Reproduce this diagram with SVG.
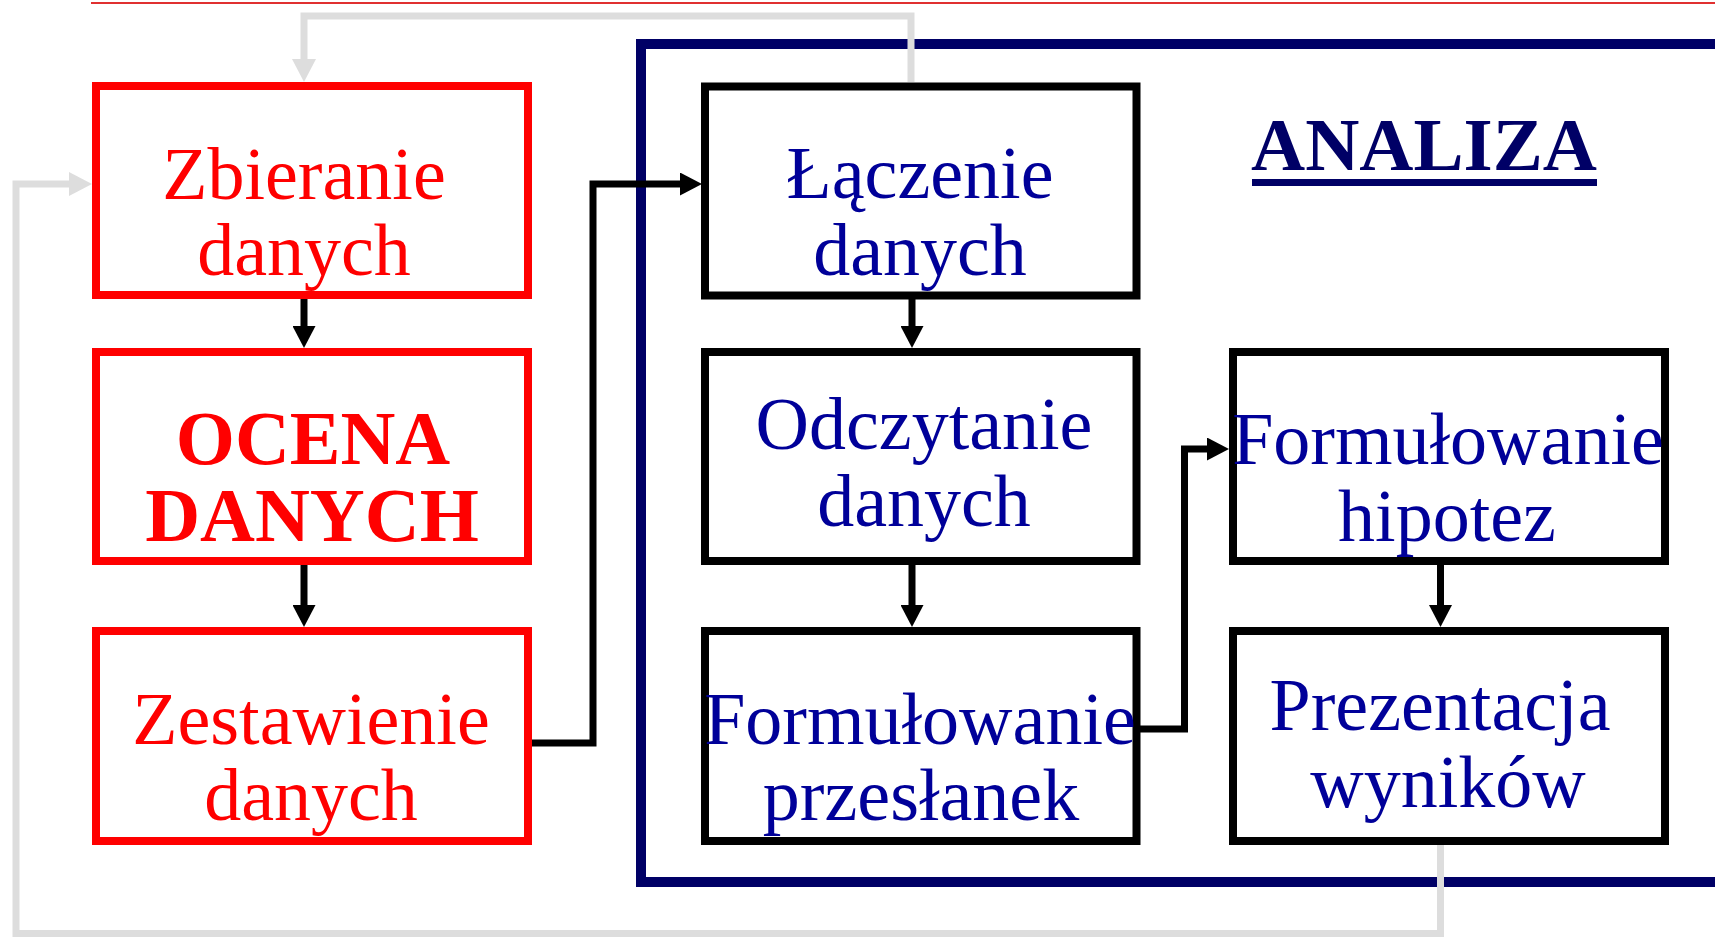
<svg xmlns="http://www.w3.org/2000/svg" width="1715" height="937" viewBox="0 0 1715 937">
<style>
.bg{fill:#ffffff}
.rbox{fill:#ffffff;stroke:#ff0000;stroke-width:8}
.kbox{fill:#ffffff;stroke:#000000;stroke-width:8}
.frame{fill:none;stroke:#000066;stroke-width:10}
.t{font-family:"Liberation Serif","Times New Roman",serif;font-size:74px;text-anchor:middle}
.red{fill:#ff0000}
.blue{fill:#000099}
.bold{font-weight:bold;font-size:76px}
.title{font-family:"Liberation Serif","Times New Roman",serif;font-size:75px;font-weight:bold;fill:#000066;text-anchor:middle}
.blk{fill:none;stroke:#000000;stroke-width:7;stroke-linejoin:miter;marker-end:url(#ab)}
.gry{fill:none;stroke:#dddddd;stroke-width:7;stroke-linejoin:miter}
.gryA{marker-end:url(#ag)}
</style>
<defs>
<marker id="ab" markerUnits="userSpaceOnUse" markerWidth="22" markerHeight="23" viewBox="0 0 22 23" refX="0" refY="11.5" orient="auto">
<path d="M0,0 L22,11.5 L0,23 z" fill="#000000"/>
</marker>
<marker id="ag" markerUnits="userSpaceOnUse" markerWidth="23" markerHeight="24" viewBox="0 0 23 24" refX="0" refY="12" orient="auto">
<path d="M0,0 L23,12 L0,24 z" fill="#dddddd"/>
</marker>
</defs>
<rect class="bg" x="0" y="0" width="1715" height="937"/>
<line x1="91" y1="3" x2="1715" y2="3" stroke="#e03030" stroke-width="2"/>
<rect class="frame" x="641" y="44" width="1200" height="838"/>
<g id="title-analiza">
<text class="title" x="1424" y="170">ANALIZA</text>
<rect x="1252" y="179" width="345" height="7" fill="#000066"/>
</g>
<g id="n-zbieranie">
<rect class="rbox" x="96" y="86" width="432" height="209"/>
<text class="t red" x="304" y="199">Zbieranie</text>
<text class="t red" x="304" y="275">danych</text>
</g>
<g id="n-ocena">
<rect class="rbox" x="96" y="352" width="432" height="209"/>
<text class="t red bold" x="313" y="464">OCENA</text>
<text class="t red bold" x="312" y="541">DANYCH</text>
</g>
<g id="n-zestawienie">
<rect class="rbox" x="96" y="631" width="432" height="210"/>
<text class="t red" x="311" y="744">Zestawienie</text>
<text class="t red" x="311" y="820">danych</text>
</g>
<g id="n-laczenie">
<rect class="kbox" x="705" y="86.5" width="431.5" height="209"/>
<text class="t blue" x="920" y="198">Łączenie</text>
<text class="t blue" x="920" y="275">danych</text>
</g>
<g id="n-odczytanie">
<rect class="kbox" x="705" y="352" width="431.5" height="209"/>
<text class="t blue" x="924" y="449">Odczytanie</text>
<text class="t blue" x="924" y="526">danych</text>
</g>
<g id="n-przeslanki">
<rect class="kbox" x="705" y="631" width="431.5" height="210"/>
<text class="t blue" x="920" y="744">Formułowanie</text>
<text class="t blue" x="921" y="820">przesłanek</text>
</g>
<g id="n-hipotezy">
<rect class="kbox" x="1233" y="352" width="432" height="209"/>
<text class="t blue" x="1448" y="464">Formułowanie</text>
<text class="t blue" x="1447" y="541">hipotez</text>
</g>
<g id="n-prezentacja">
<rect class="kbox" x="1233" y="631" width="432" height="210"/>
<text class="t blue" x="1440" y="730">Prezentacja</text>
<text class="t blue" x="1448" y="807">wyników</text>
</g>
<g id="connectors">
<path class="blk" d="M304,299 V326"/>
<path class="blk" d="M304,565 V605"/>
<path class="blk" d="M532,743 H593 V184 H680"/>
<path class="blk" d="M912,299 V326"/>
<path class="blk" d="M912,565 V605"/>
<path class="blk" d="M1140,729 H1184.5 V449 H1207"/>
<path class="blk" d="M1440.5,565 V605"/>
<path class="gry gryA" d="M911,82 V16 H304 V59"/>
<path class="gry gryA" d="M1440.5,845 V933.5 H16 V184 H69"/>
</g>
</svg>
